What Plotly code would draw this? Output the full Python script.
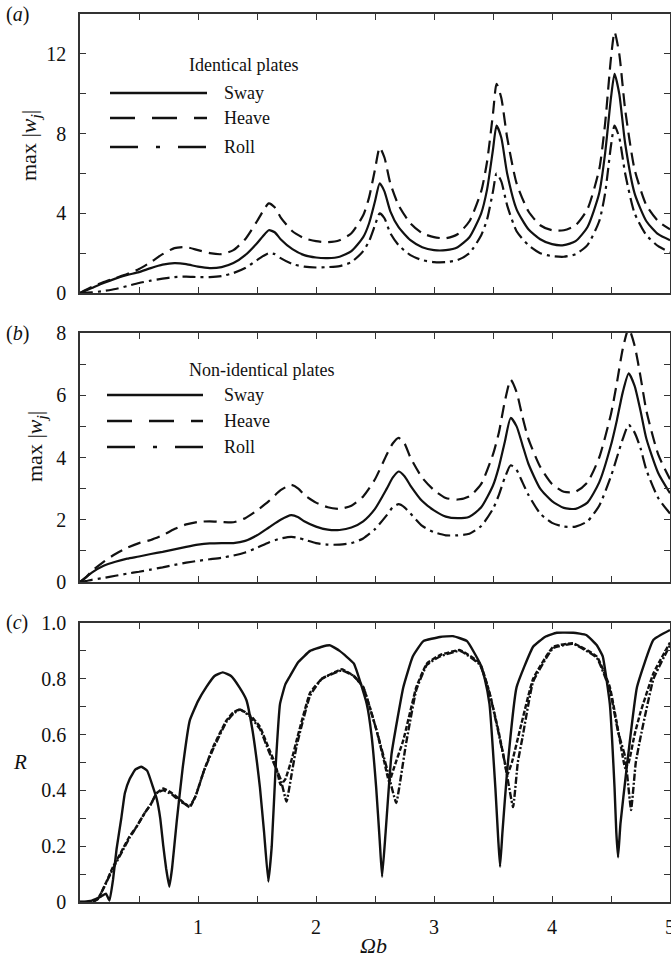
import plotly.graph_objects as go

# ---------------- data ----------------
# Panel (a): identical plates
a_x = [0, 0.1, 0.2, 0.3, 0.4, 0.5, 0.6, 0.7, 0.8, 0.9,
       1.0, 1.1, 1.2, 1.3, 1.4, 1.5, 1.55, 1.6, 1.65, 1.7,
       1.8, 1.9, 2.0, 2.1, 2.2, 2.3, 2.4, 2.45, 2.5, 2.54,
       2.58, 2.63, 2.7, 2.8, 2.9, 3.0, 3.1, 3.2, 3.3, 3.4,
       3.45, 3.5, 3.53, 3.57, 3.62, 3.7, 3.8, 3.9, 4.0, 4.1,
       4.2, 4.3, 4.4, 4.45, 4.5, 4.53, 4.57, 4.62, 4.7, 4.8,
       4.9, 5.0]
a_sway = [0, 0.25, 0.5, 0.72, 0.9, 1.05, 1.25, 1.42, 1.5, 1.45,
          1.32, 1.25, 1.3, 1.5, 1.9, 2.5, 2.85, 3.15, 3.05, 2.7,
          2.2, 1.9, 1.78, 1.75, 1.82, 2.1, 2.8, 3.5, 4.6, 5.5,
          5.1, 4.1, 3.3, 2.65, 2.3, 2.15, 2.15, 2.3, 2.8, 4.0,
          5.2, 7.2, 8.4, 7.8, 6.0, 4.2, 3.2, 2.7, 2.45, 2.4,
          2.6, 3.3, 5.0, 7.0, 9.8, 11.0, 10.0, 7.5, 5.0, 3.6,
          2.95, 2.65]
a_heave = [0, 0.3, 0.55, 0.75, 0.95, 1.2, 1.55, 1.95, 2.25, 2.3,
           2.15, 2.0, 1.95, 2.15, 2.7, 3.6, 4.1, 4.5, 4.3, 3.8,
           3.1, 2.75, 2.6, 2.55, 2.65, 3.0, 3.9, 4.8, 6.2, 7.3,
           6.8, 5.5, 4.4, 3.5, 3.0, 2.8, 2.75, 2.95, 3.6, 5.1,
           6.6, 9.0, 10.5, 9.8, 7.8, 5.5, 4.1, 3.4, 3.15, 3.15,
           3.4, 4.2, 6.2, 8.5, 11.8, 13.1, 12.0, 9.2, 6.2, 4.4,
           3.6, 3.2]
a_roll = [0, 0.03, 0.1, 0.2, 0.35, 0.5, 0.62, 0.72, 0.8, 0.82,
          0.8, 0.8, 0.85, 1.0, 1.25, 1.65, 1.85, 2.0, 1.95, 1.75,
          1.45, 1.32, 1.28, 1.3, 1.35, 1.55, 2.1, 2.6, 3.4, 4.0,
          3.75, 3.0, 2.4, 1.9, 1.65, 1.55, 1.55, 1.65, 2.0, 2.9,
          3.7, 5.1, 6.0, 5.6, 4.4, 3.1, 2.4, 2.0, 1.85, 1.82,
          1.95, 2.4, 3.6, 5.0, 7.4, 8.4, 7.8, 6.0, 4.0, 2.9,
          2.35, 2.05]

# Panel (b): non-identical plates
b_x = [0, 0.05, 0.1, 0.2, 0.3, 0.4, 0.5, 0.6, 0.7, 0.8,
       0.9, 1.0, 1.1, 1.2, 1.3, 1.4, 1.5, 1.6, 1.7, 1.79,
       1.85, 1.9, 2.0, 2.1, 2.2, 2.3, 2.4, 2.5, 2.6, 2.65,
       2.7, 2.75, 2.8, 2.9, 3.0, 3.1, 3.2, 3.3, 3.4, 3.5,
       3.55, 3.6, 3.65, 3.7, 3.75, 3.8, 3.9, 4.0, 4.1, 4.2,
       4.3, 4.4, 4.5, 4.55, 4.6, 4.65, 4.7, 4.75, 4.8, 4.9,
       5.0]
b_heave = [0, 0.15, 0.35, 0.65, 0.9, 1.1, 1.25, 1.35, 1.5, 1.7,
           1.85, 1.93, 1.95, 1.93, 1.92, 2.05, 2.3, 2.6, 2.95, 3.12,
           3.0, 2.8, 2.55, 2.4, 2.35, 2.45, 2.75, 3.3, 4.1, 4.45,
           4.63, 4.45, 4.0, 3.35, 2.95, 2.7, 2.65, 2.75, 3.15, 4.1,
           4.8, 5.8, 6.5, 6.1, 5.3, 4.6, 3.7, 3.15, 2.9, 2.9,
           3.2, 4.0, 5.4, 6.4, 7.5, 8.15, 7.6, 6.6, 5.5, 4.1,
           3.3]
b_sway = [0, 0.15, 0.3, 0.52, 0.65, 0.75, 0.82, 0.9, 0.97, 1.05,
          1.13, 1.2, 1.24, 1.25, 1.25, 1.32, 1.5, 1.75, 2.0, 2.15,
          2.08, 1.95, 1.78, 1.68, 1.67, 1.75, 1.95, 2.35, 3.0, 3.35,
          3.55, 3.4, 3.1, 2.6, 2.3, 2.1, 2.05, 2.1, 2.4, 3.1,
          3.7, 4.5, 5.27, 5.0, 4.4, 3.8, 3.0, 2.6, 2.38, 2.35,
          2.55, 3.2, 4.4, 5.2, 6.1, 6.7, 6.3, 5.5, 4.6, 3.5,
          2.85]
b_roll = [0, 0.03, 0.07, 0.13, 0.2, 0.27, 0.33, 0.4, 0.47, 0.55,
          0.62, 0.68, 0.73, 0.78, 0.85, 0.95, 1.1, 1.27, 1.4, 1.45,
          1.42, 1.36, 1.25, 1.2, 1.2, 1.25, 1.4, 1.7, 2.15, 2.4,
          2.5, 2.4, 2.2, 1.8, 1.6, 1.5, 1.5, 1.55, 1.8, 2.35,
          2.8, 3.35, 3.75, 3.6, 3.2, 2.8, 2.2, 1.9, 1.78, 1.78,
          1.95, 2.45, 3.4, 4.0, 4.6, 5.05, 4.8, 4.3, 3.6, 2.7,
          2.2]

# Panel (c): R
c_sway_x = [0, 0.1, 0.18, 0.22, 0.25, 0.28, 0.31, 0.35, 0.38, 0.42,
            0.47, 0.52, 0.57, 0.62, 0.65, 0.68, 0.706, 0.73, 0.757, 0.78,
            0.82, 0.87, 0.93, 1.0, 1.07, 1.14, 1.21, 1.28, 1.35, 1.41,
            1.46, 1.5, 1.525, 1.56, 1.596, 1.625, 1.66, 1.695, 1.74, 1.78,
            1.85, 1.95, 2.05, 2.12, 2.2, 2.32, 2.43, 2.47, 2.51, 2.54,
            2.56, 2.59, 2.64, 2.74, 2.82, 2.91, 3.05, 3.16, 3.28, 3.39,
            3.43, 3.47, 3.52, 3.545, 3.56, 3.58, 3.62, 3.7, 3.84, 3.94,
            4.04, 4.18, 4.29, 4.38, 4.43, 4.49, 4.53, 4.545, 4.56, 4.58,
            4.63, 4.72, 4.86, 5.0]
c_sway = [0, 0.005, 0.02, 0.03, 0.005, 0.08, 0.19, 0.3, 0.39, 0.44,
          0.475, 0.485, 0.47, 0.41, 0.37, 0.3, 0.2, 0.12, 0.055, 0.12,
          0.29, 0.48, 0.65, 0.72, 0.77, 0.81, 0.823, 0.81, 0.77, 0.724,
          0.62, 0.5, 0.41, 0.25, 0.073, 0.2, 0.5, 0.71, 0.78, 0.81,
          0.86, 0.9, 0.915, 0.92, 0.9, 0.855, 0.71, 0.6, 0.41, 0.22,
          0.09, 0.25, 0.53, 0.77, 0.88, 0.935, 0.95, 0.953, 0.935, 0.855,
          0.8, 0.71, 0.41, 0.22, 0.126, 0.25, 0.47, 0.77, 0.915, 0.95,
          0.965, 0.965, 0.957, 0.92, 0.88, 0.71, 0.41, 0.25, 0.16, 0.28,
          0.47, 0.77, 0.94, 0.975]
c_heave_x = [0, 0.1, 0.15, 0.2, 0.28, 0.35, 0.42, 0.48, 0.55, 0.6,
             0.65, 0.706, 0.78, 0.85, 0.93, 0.98, 1.05, 1.13, 1.24, 1.3,
             1.356, 1.44, 1.525, 1.6, 1.64, 1.67, 1.7, 1.74, 1.8, 1.836,
             1.95, 2.05, 2.22, 2.32, 2.4, 2.51, 2.58, 2.62, 2.66, 2.74,
             2.85, 2.94, 3.05, 3.22, 3.39, 3.47, 3.545, 3.6, 3.62, 3.66,
             3.73, 3.84, 4.01, 4.18, 4.38, 4.49, 4.56, 4.6, 4.62, 4.65,
             4.7, 4.75, 4.86, 5.0]
c_heave = [0, 0, 0.01, 0.05, 0.126, 0.18, 0.235, 0.27, 0.32, 0.35,
           0.39, 0.407, 0.39, 0.366, 0.34, 0.38, 0.47, 0.557, 0.65, 0.68,
           0.69, 0.67, 0.628, 0.55, 0.51, 0.47, 0.42, 0.44, 0.52, 0.58,
           0.75, 0.8, 0.834, 0.81, 0.77, 0.62, 0.5, 0.43, 0.48, 0.58,
           0.77, 0.855, 0.885, 0.903, 0.855, 0.75, 0.616, 0.5, 0.455, 0.5,
           0.62, 0.8, 0.915, 0.927, 0.88, 0.77, 0.616, 0.52, 0.48, 0.5,
           0.6, 0.68, 0.82, 0.93]
c_roll_x = [0, 0.1, 0.15, 0.2, 0.28, 0.35, 0.42, 0.48, 0.55, 0.6,
            0.65, 0.706, 0.78, 0.85, 0.93, 0.98, 1.05, 1.13, 1.24, 1.3,
            1.356, 1.44, 1.525, 1.6, 1.64, 1.7, 1.75, 1.79, 1.836, 1.95,
            2.05, 2.22, 2.32, 2.4, 2.51, 2.6, 2.68, 2.72, 2.76, 2.85,
            2.94, 3.05, 3.22, 3.39, 3.47, 3.545, 3.6, 3.67, 3.71, 3.75,
            3.84, 4.01, 4.18, 4.38, 4.49, 4.56, 4.62, 4.67, 4.71, 4.75,
            4.86, 5.0]
c_roll = [0, 0, 0.01, 0.05, 0.12, 0.175, 0.23, 0.27, 0.32, 0.35,
          0.39, 0.4, 0.385, 0.36, 0.345, 0.38, 0.47, 0.55, 0.645, 0.675,
          0.69, 0.665, 0.62, 0.54, 0.5, 0.44, 0.36, 0.45, 0.56, 0.74,
          0.8, 0.83, 0.81, 0.77, 0.62, 0.48, 0.355, 0.45, 0.56, 0.76,
          0.85, 0.88, 0.9, 0.85, 0.75, 0.61, 0.5, 0.34, 0.5, 0.59,
          0.79, 0.91, 0.925, 0.875, 0.76, 0.61, 0.52, 0.33, 0.5, 0.59,
          0.8, 0.92]

series_names = ["Sway", "Heave", "Roll"]
panel_titles = ["Identical plates", "Non-identical plates"]
x_tick_vals = [0.5, 1, 1.5, 2, 2.5, 3, 3.5, 4, 4.5, 5]
x_tick_text = ["", "1", "", "2", "", "3", "", "4", "", "5"]
ya_vals = [0, 2, 4, 6, 8, 10, 12, 14]
ya_text = ["0", "", "4", "", "8", "", "12", ""]
yb_vals = [0, 1, 2, 3, 4, 5, 6, 7, 8]
yb_text = ["0", "", "2", "", "4", "", "6", "", "8"]
yc_vals = [0, 0.1, 0.2, 0.3, 0.4, 0.5, 0.6, 0.7, 0.8, 0.9, 1.0]
yc_text = ["0", "", "0.2", "", "0.4", "", "0.6", "", "0.8", "", "1.0"]

# ---------------- figure ----------------
W, H = 671, 959
FONT = "Liberation Serif, Times New Roman, Times, DejaVu Serif, serif"
BLK = "#111"

def px(x):
    return x / W

def py(y):
    return 1 - y / H

curve_dash = {"Sway": "solid", "Heave": "13px,7px", "Roll": "13px,5px,3px,5px"}
c_dash = {"Sway": "solid", "Heave": "5px,2px", "Roll": "7px,2px,2px,2px"}
legend_dash = {"Sway": "solid", "Heave": "25px,17px", "Roll": "28px,18px,4px,18px"}

fig = go.Figure()

a_data = {"Sway": a_sway, "Heave": a_heave, "Roll": a_roll}
b_data = {"Sway": b_sway, "Heave": b_heave, "Roll": b_roll}
for name in series_names:
    fig.add_trace(go.Scatter(x=a_x, y=a_data[name], mode="lines", name=name,
                             line=dict(color=BLK, width=2.2, dash=curve_dash[name],
                                       shape="spline", smoothing=0.6),
                             xaxis="x", yaxis="y", showlegend=False))
for name in series_names:
    fig.add_trace(go.Scatter(x=b_x, y=b_data[name], mode="lines", name=name,
                             line=dict(color=BLK, width=2.2, dash=curve_dash[name],
                                       shape="spline", smoothing=0.6),
                             xaxis="x2", yaxis="y2", showlegend=False))
c_data = {"Sway": (c_sway_x, c_sway), "Heave": (c_heave_x, c_heave),
          "Roll": (c_roll_x, c_roll)}
for name in series_names:
    cx, cy = c_data[name]
    fig.add_trace(go.Scatter(x=cx, y=cy, mode="lines", name=name,
                             line=dict(color=BLK, width=2.4, dash=c_dash[name],
                                       shape="spline", smoothing=0.35),
                             xaxis="x3", yaxis="y3", showlegend=False))

xdom = [px(80), px(670)]
common_axis = dict(showline=True, linecolor="#333", linewidth=1.6, mirror="allticks",
                   ticks="inside", ticklen=6, tickwidth=1.4, tickcolor="#333",
                   showgrid=False, zeroline=False, automargin=False,
                   tickfont=dict(family=FONT, size=20, color=BLK))

layout = dict(
    width=W, height=H, margin=dict(l=0, r=0, t=0, b=0),
    paper_bgcolor="white", plot_bgcolor="white", showlegend=False,
    font=dict(family=FONT, color=BLK),
    xaxis=dict(domain=xdom, anchor="y", range=[0, 5], tickvals=x_tick_vals,
               ticktext=[""] * len(x_tick_vals), **common_axis),
    xaxis2=dict(domain=xdom, anchor="y2", range=[0, 5], tickvals=x_tick_vals,
                ticktext=[""] * len(x_tick_vals), **common_axis),
    xaxis3=dict(domain=xdom, anchor="y3", range=[0, 5], tickvals=x_tick_vals,
                ticktext=x_tick_text, ticklabelstandoff=6,
                ticklabeloverflow="allow", **common_axis),
    yaxis=dict(domain=[py(293), py(14)], anchor="x", range=[0, 14],
               tickvals=ya_vals, ticktext=ya_text, ticklabelstandoff=8, **common_axis),
    yaxis2=dict(domain=[py(582), py(333)], anchor="x2", range=[0, 8],
                tickvals=yb_vals, ticktext=yb_text, ticklabelstandoff=8, **common_axis),
    yaxis3=dict(domain=[py(902), py(623)], anchor="x3", range=[0, 1],
                tickvals=yc_vals, ticktext=yc_text, ticklabelstandoff=8, **common_axis),
)
fig.update_layout(**layout)

shapes = []
annotations = []

def text(x, y, s, size=18, xanchor="left", angle=0):
    annotations.append(dict(x=px(x), y=py(y), xref="paper", yref="paper", text=s,
                            showarrow=False, xanchor=xanchor, yanchor="middle",
                            textangle=angle,
                            font=dict(family=FONT, size=size, color=BLK)))

# legends drawn inside panels (a) and (b)
legend_specs = [
    (panel_titles[0], 65, [93, 118, 147], 110, 207, 222),
    (panel_titles[1], 370, [395, 421, 447], 107, 203, 222),
]
for title, ty, ys, lx0, lx1, tx in legend_specs:
    text(187, ty, title, size=18)
    for name, yy in zip(series_names, ys):
        shapes.append(dict(type="line", xref="paper", yref="paper",
                           x0=px(lx0), x1=px(lx1), y0=py(yy), y1=py(yy),
                           line=dict(color=BLK, width=2.6, dash=legend_dash[name])))
        text(tx, yy, name, size=18)

# panel labels
text(4, 15, "(<i>a</i>)", size=20)
text(4, 333, "(<i>b</i>)", size=20)
text(4, 622, "(<i>c</i>)", size=20)

# axis titles
text(30, 146, "max |<i>w<sub>j</sub></i>|", size=22, xanchor="center", angle=-90)
text(36, 447, "max |<i>w<sub>j</sub></i>|", size=22, xanchor="center", angle=-90)
text(20, 762, "<i>R</i>", size=21, xanchor="center")
text(373, 945, "<i>Ωb</i>", size=22, xanchor="center")

fig.update_layout(shapes=shapes, annotations=annotations)
fig.write_html("out.html")
